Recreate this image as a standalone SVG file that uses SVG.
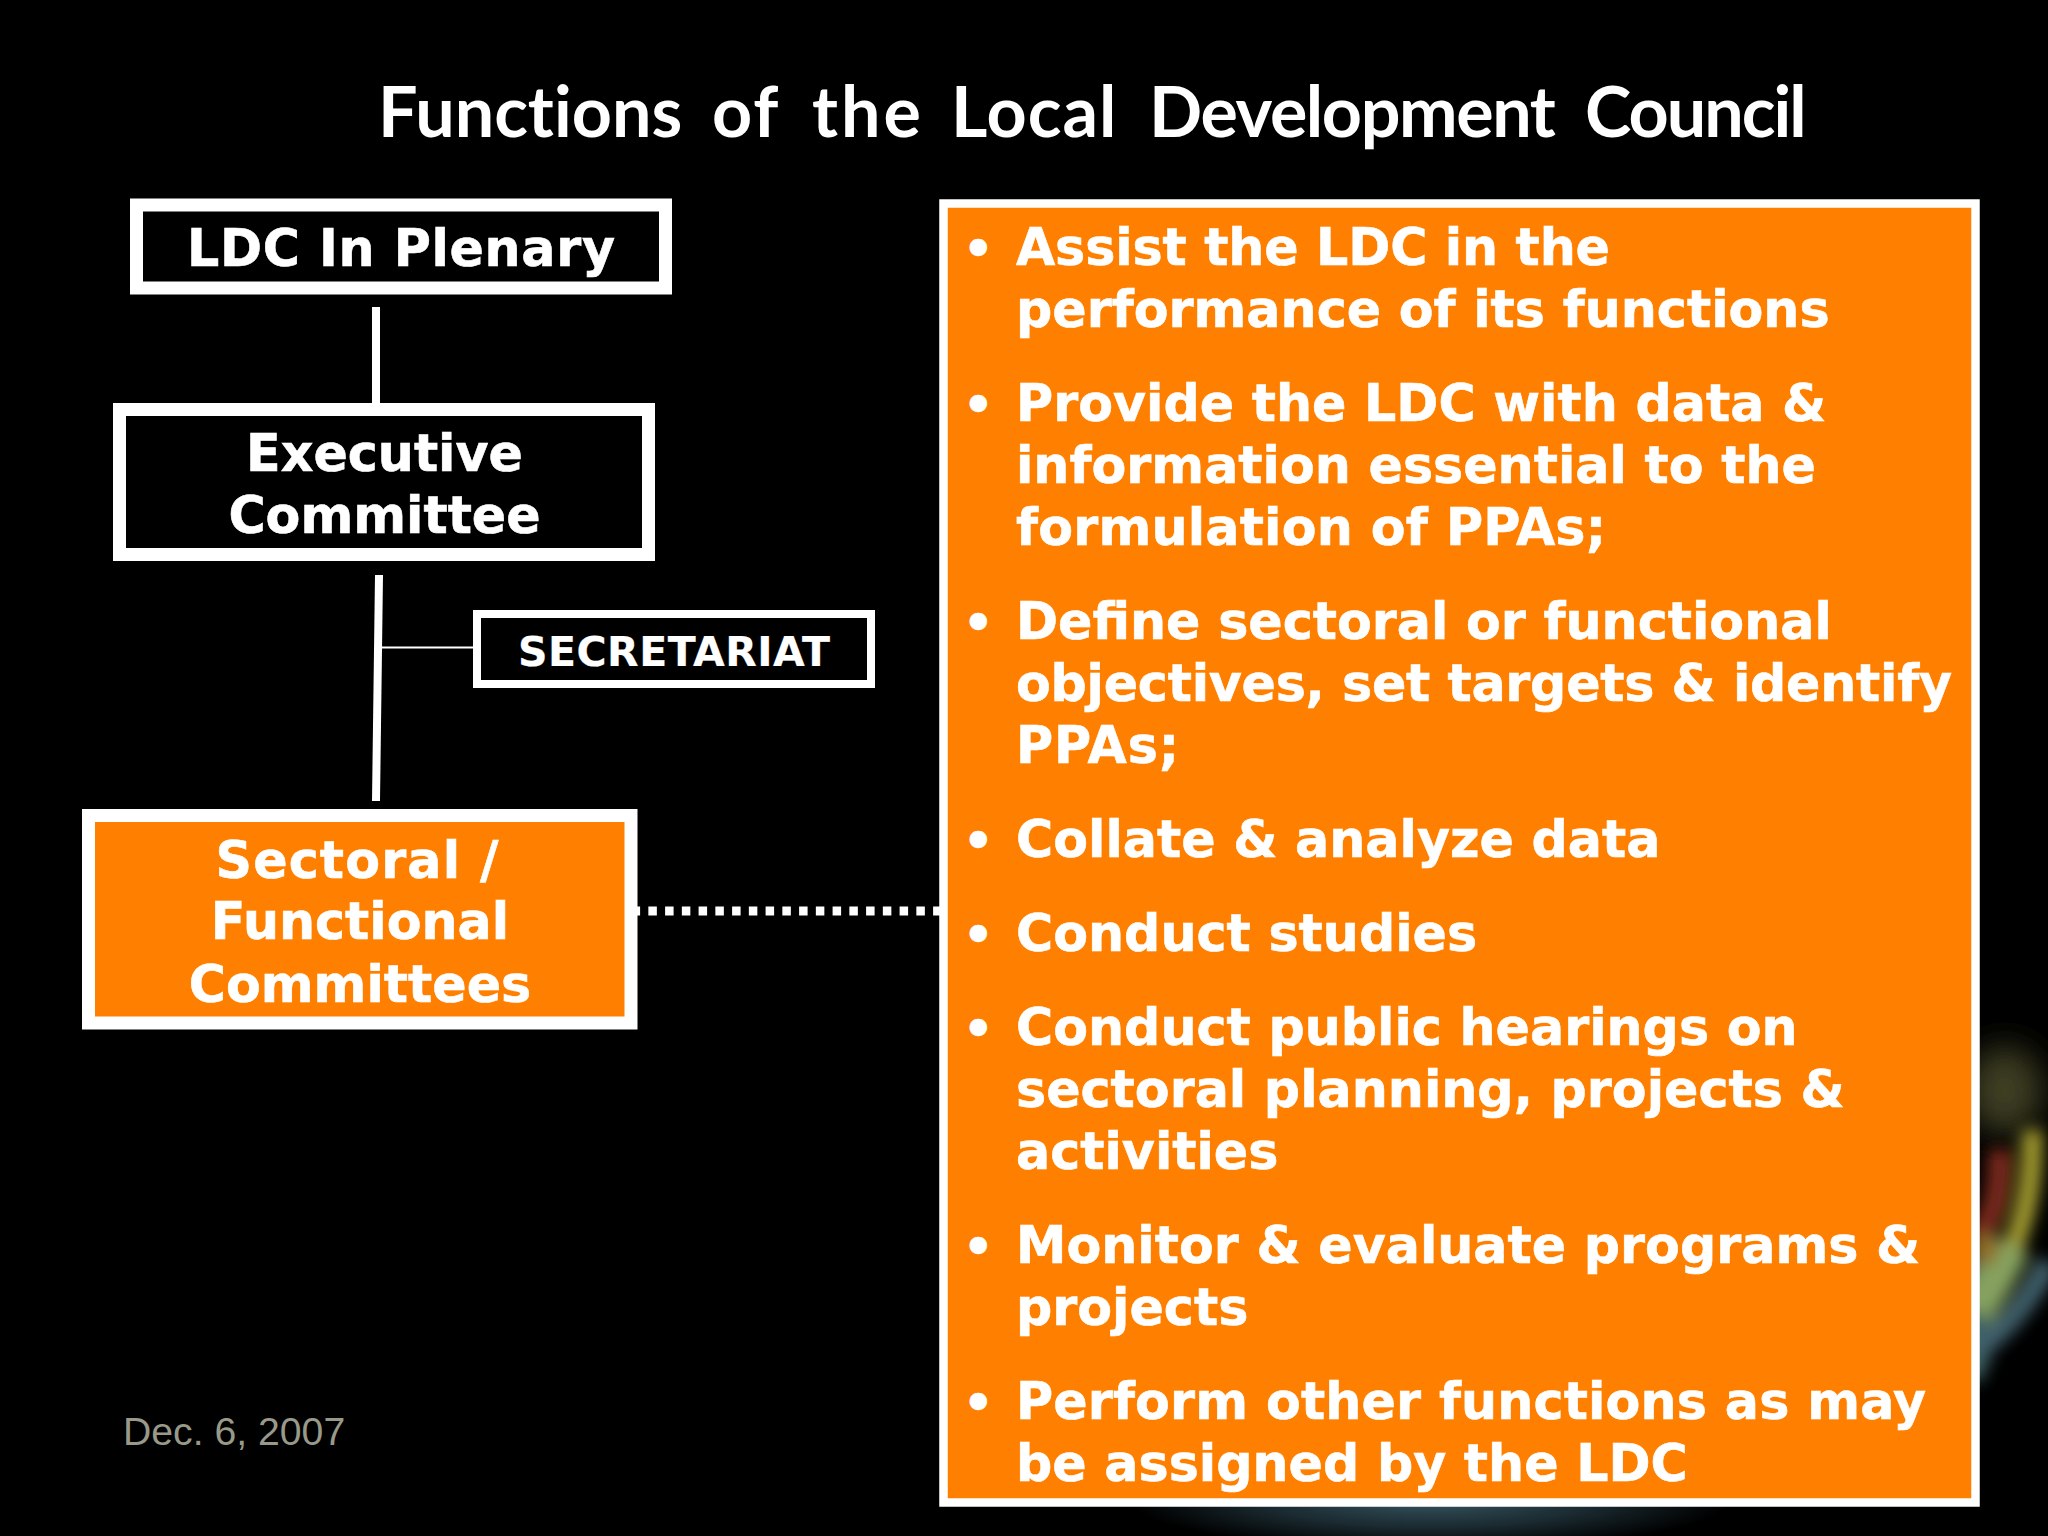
<svg xmlns="http://www.w3.org/2000/svg" width="2048" height="1536" viewBox="0 0 2048 1536">
<style>
.v{font-family:"DejaVu Sans",Verdana,sans-serif;font-weight:700;fill:#fff;stroke:#fff;stroke-width:.6px}
.m{text-anchor:middle}
.b{font-size:50.700px}
.u{font-size:48px}
.box{stroke:#fff;fill:#000}
.or{fill:#ff8000}
.ln{stroke:#fff;fill:none}
.t{font-family:Lato,sans-serif;font-weight:700;font-size:70px;fill:#fff;font-variant-ligatures:none}
</style>
<defs>
<filter id="blur" x="-50%" y="-50%" width="200%" height="200%"><feGaussianBlur stdDeviation="8"/></filter>
<filter id="blur2" x="-80%" y="-80%" width="260%" height="260%"><feGaussianBlur stdDeviation="16"/></filter>
<radialGradient id="bot"><stop offset="0" stop-color="#36545f"/><stop offset="0.55" stop-color="#1a2a30"/><stop offset="1" stop-color="#000"/></radialGradient>
</defs>
<rect width="2048" height="1536" fill="#000"/>
<ellipse id="glow-bottom" cx="1430" cy="1500" rx="300" ry="50" fill="url(#bot)"/>
<ellipse id="glow-top" cx="2005" cy="1090" rx="38" ry="44" fill="#3e3e24" filter="url(#blur2)"/>
<g id="glow-right" filter="url(#blur)" fill="none">
<path d="M1975 1260C1975 1320 1985 1345 1965 1375" stroke="#3c6062" stroke-width="32"/>
<path d="M2048 1262C2030 1300 2000 1335 1975 1350" stroke="#40606c" stroke-width="22"/>
<path d="M2032 1130C2034 1180 2028 1230 1985 1305" stroke="#a8a032" stroke-width="20"/>
<path d="M2012 1245C2000 1270 1990 1290 1975 1310" stroke="#86a25e" stroke-width="38"/>
<path d="M2000 1150C2002 1200 1990 1225 1975 1240" stroke="#7c2c1a" stroke-width="24"/>
<ellipse cx="1985" cy="1250" rx="14" ry="16" fill="#8e6e26"/>
</g>
<g id="title"><text class="t" y="137"><tspan x="378">Functions</tspan> <tspan x="712" letter-spacing="2">of</tspan> <tspan x="812" letter-spacing="3">the</tspan> <tspan x="951" letter-spacing="1">Local</tspan> <tspan x="1149" letter-spacing="-1.400">Development</tspan> <tspan x="1585" letter-spacing="-2">Council</tspan></text></g>
<g id="connectors">
<path class="ln" stroke-width="8" d="M376 307V403"/>
<path class="ln" stroke-width="8" d="M379 575L376 801"/>
<path class="ln" stroke-width="2" d="M380 647.500H473"/>
<path class="ln" stroke-width="9" stroke-dasharray="8.500 8.250" d="M631.600 911H945"/>
</g>
<g id="ldc-plenary"><rect class="box" x="136.500" y="205" width="529" height="83" stroke-width="13"/><text class="v m" x="401" y="266" font-size="50.700" textLength="428" lengthAdjust="spacing">LDC In Plenary</text></g>
<g id="executive-committee"><rect class="box" x="119.500" y="409.500" width="529" height="145" stroke-width="13"/><text class="v m" x="384.500" y="471" font-size="50.700">Executive</text><text class="v m" x="384.500" y="533" font-size="50.700">Committee</text></g>
<g id="secretariat"><rect class="box" x="477" y="614" width="394" height="70" stroke-width="8"/><text class="v m" x="674" y="666" font-size="41" textLength="312" lengthAdjust="spacing" style="stroke-width:.2px">SECRETARIAT</text></g>
<g id="sectoral-functional"><rect class="box or" x="88.500" y="815.500" width="542.500" height="207.500" stroke-width="13"/><text class="v m" x="357" y="878" font-size="50.700" textLength="283" lengthAdjust="spacing">Sectoral /</text><text class="v m" x="360" y="939" font-size="50.700">Functional</text><text class="v m" x="360" y="1002" font-size="50.700">Committees</text></g>
<g id="functions">
<rect class="box or" x="943.500" y="203.500" width="1032" height="1299" stroke-width="8.500"/>
<g class="v b">
<text class="u" x="963" y="265">•</text><text x="1016" y="265" textLength="594" lengthAdjust="spacing">Assist the LDC in the</text><text x="1016" y="327">performance of its functions</text>
<text class="u" x="963" y="421">•</text><text x="1016" y="421">Provide the LDC with data &amp;</text><text x="1016" y="483">information essential to the</text><text x="1016" y="545" textLength="590" lengthAdjust="spacing">formulation of PPAs;</text>
<text class="u" x="963" y="639">•</text><text x="1016" y="639">Define sectoral or functional</text><text x="1016" y="701" textLength="936" lengthAdjust="spacing">objectives, set targets &amp; identify</text><text x="1016" y="763" textLength="163" lengthAdjust="spacing">PPAs;</text>
<text class="u" x="963" y="857">•</text><text x="1016" y="857">Collate &amp; analyze data</text>
<text class="u" x="963" y="951">•</text><text x="1016" y="951">Conduct studies</text>
<text class="u" x="963" y="1045">•</text><text x="1016" y="1045">Conduct public hearings on</text><text x="1016" y="1107">sectoral planning, projects &amp;</text><text x="1016" y="1169">activities</text>
<text class="u" x="963" y="1263">•</text><text x="1016" y="1263">Monitor &amp; evaluate programs &amp;</text><text x="1016" y="1325">projects</text>
<text class="u" x="963" y="1419">•</text><text x="1016" y="1419" textLength="910" lengthAdjust="spacing">Perform other functions as may</text><text x="1016" y="1481">be assigned by the LDC</text>
</g>
</g>
<g id="date"><text x="123" y="1445" font-family="Liberation Sans,Arial,sans-serif" font-size="39.200" fill="#99998a">Dec. 6, 2007</text></g>
</svg>
